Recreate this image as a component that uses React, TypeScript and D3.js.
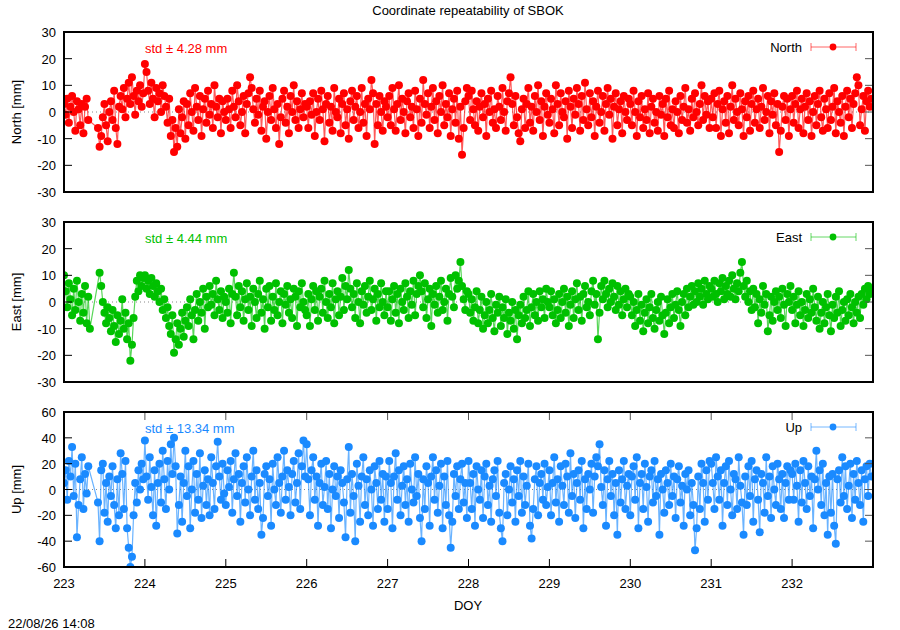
import React from 'react'
import * as d3 from 'd3'

const title = 'Coordinate repeatability of SBOK'
const stamp = '22/08/26 14:08'
const xTickLabels = [223, 224, 225, 226, 227, 228, 229, 230, 231, 232]
const doyStart = 223
const doyEnd = 233
const perDay = 50 // epochs per day

// residuals in mm, one row per day (null = no solution)
const north: (number | null)[] = [
    // 223
    3, -1, 5, -4, 2, 6, 0, -7, 4, 1, -5, 3, -8, 2, 5, -3, null, null, null, null, null,
    -6, -13, -9, -2, 3, -5, -11, 0, 4, -3, 8, -6, -12, 2, 6,
    1, 9, -2, 5, 11, 3, 13, 6, -1, 8, 4, 10, 2, 7,
    // 224
    18, 15, 8, 3, 11, 5, -2, 9, 4, 7, 0, 10, 6,
    2, -4, 5, -9, -3, -15, -6, -13, 1, -8, -2, 4, -10,
    3, -5, 7, 0, -7, 9, 2, -3, 6, -9, 1, 5, -4, 8, -1, 3, -6, 10, 2, -2, 5, -8, 4, 0,
    // 225
    -3, 5, 1, -6, 8, 2, -2, 10, 4, -5, 0, 6, -8, 3, 7, 13, 9, 1, -4, 5,
    -1, 8, -7, 2, 4, -10, 0, 6, -3, 9, 1, -6, 3, -12, -2, 5, 8, -4, 2, -8,
    6, 0, 10, -3, 4, -6, 1, 7, -2, 3,
    // 226
    2, -6, 4, -1, 7, -9, 0, 5, -3, 8, 1, -11, 3, 6, -4, 2, -7, 9, 0, -2,
    5, -8, 3, 7, -5, 1, -10, 4, 8, -3, 2, 6, -6, 0, 9, -4, 3, -9, 5, 1,
    12, 7, -12, 3, -5, 6, 0, -7, 4, 2,
    // 227
    -2, 6, -5, 9, 1, -7, 3, 10, -3, 5, 0, -8, 4, 7, -2, 2, -6, 8, 1, -9,
    5, -4, 12, 3, -1, 7, -6, 2, 9, -3, 4, -8, 6, 0, 10, -5, 3, -2, 7, -9,
    1, 5, -4, 8, -10, 2, -16, -6, 4, 9,
    // 228
    6, -3, 8, 1, -5, 4, -7, 2, 7, -2, 3, -9, 5, 0, 8, -4, 1, -6, 6, 2,
    -3, 9, 0, -7, 4, 7, 13, 3, -5, 6, -2, -8, -11, 1, 5, -6, 3, 9, -4, 2,
    -7, 6, 0, 10, -3, 4, -9, 2, 7, -1,
    // 229
    -4, 5, 1, -8, 10, 3, -5, 7, 0, -2, 4, -10, 8, 2, -6, 5, -1, 9, 3, -7,
    6, -3, 11, 1, -5, 7, -2, 4, -9, 2, 8, -4, 0, 6, -7, 3, 9, -1, 5, -10,
    2, 7, -5, 1, 4, -8, 6, 0, -3, 5,
    // 230
    3, -5, 8, 0, -9, 4, -2, 6, -6, 1, -3, 7, -8, 2, 5, -4, 0, -7, 6, -1,
    3, -9, 5, -2, 8, -5, 1, -6, 4, 0, -8, 6, -3, 2, 9, -4, 1, -7, 5, -2,
    7, 0, -5, 3, 10, -3, 6, -1, 4, -6,
    // 231
    5, -2, 7, -6, 3, 8, -9, 1, 4, -4, 6, -8, 2, 10, -3, 5, 0, -5, 7, 1,
    -9, 4, -2, 6, -7, 3, 8, -4, 1, 5, -6, 2, 9, -3, 0, 6, -8, 4, -1, 7,
    -5, 3, -15, -7, 2, 6, -3, 5, -9, 1,
    // 232
    6, -4, 3, 8, -6, 1, 5, -8, 2, 7, -3, 4, -9, 0, 6, -5, 3, 8, -2, -7,
    5, 1, -6, 7, -3, 2, 9, -8, 4, 0, -4, 6, -9, 2, 8, -2, 5, -6, 3, 7,
    13, 10, -5, 1, 6, -7, 4, 8, 2, 5,
]

const east: (number | null)[] = [
    // 223
    10, 4, -2, 7, 1, -5, 5, -3, 8, 0, -7, 3, -4, 6, -8, 2, -10, null, null, null, null, null,
    11, 6, 0, -4, -8, -2, -6, -11, -3, -9, -15, -5, -12, -7, 1, -10, -4, -14, -8,
    -22, -16, -6, 2, 8, 4, 10, 6, 9,
    // 224
    10, 5, 8, 3, 9, 6, 2, 7, 4, 0, 5, -3, 1, -6, -2, -9, -12, -5, -19, -14,
    -8, -16, -10, -4, -13, -7, -2, -9, 1, -5, -14, -3, 3, -7, 0, -4, 5, -10, 2, -2,
    6, -1, 3, -5, 8, 1, -3, 4, -6, 2,
    // 225
    0, -4, 5, -8, 3, 11, 2, -5, 6, -2, 4, -7, 1, 7, -3, 2, -9, 5, 0, -6,
    3, 8, -4, 1, -10, 5, -2, 6, -7, 2, -3, 7, -5, 0, 4, -8, 3, -1, 6, -4,
    1, -6, 5, 2, -9, 4, -2, 7, 0, -3,
    // 226
    -5, 3, -9, 1, 6, -3, 4, -7, 2, 5, -4, 8, 0, -6, 3, -2, 7, -8, 1, 4,
    -5, 2, 9, -3, 6, 1, 12, 5, -2, 3, -6, 7, 0, -8, 4, -1, 6, -4, 2, 8,
    -3, 1, 5, -7, 3, -2, 7, 0, -5, 4,
    // 227
    -2, 4, -7, 1, 6, -4, 3, -8, 5, 0, -3, 7, 2, -6, 4, -1, 8, -5, 3, 6,
    10, 4, -2, 7, -6, 1, 5, -9, 3, -1, 6, -4, 2, 8, -3, 0, 5, -7, 3, 9,
    2, -2, 10, 5, 8, 15, 6, 1, -3, 4,
    // 228
    3, -4, 1, -7, -2, 4, -8, -3, 2, -10, -5, 0, -8, -3, 3, -6, -11, -1, -4, 2,
    -9, -2, -6, 1, -12, -4, -7, 0, -10, -3, -14, -5, -1, -8, 2, -6, -3, 4, -9, -2,
    3, -5, 0, -7, 4, -2, 1, -6, 5, 0,
    // 229
    -2, 4, -5, 1, -8, -3, 3, -6, 0, 5, -4, 2, -9, -1, 4, -6, 1, 7, -3, 2,
    -7, 3, 6, -2, 0, -5, 4, 8, -1, 3, -14, -4, 6, 1, 8, 3, -2, 5, 0, 7,
    2, -3, 6, -1, 4, -5, 1, 5, -2, 3,
    // 230
    2, -5, 0, -9, -3, 3, -7, -1, -11, -4, 1, -8, -2, 3, -6, -10, -3, 0, -7, 2,
    -5, -12, -4, 1, -8, -2, 3, -6, -1, 4, -3, -9, 0, 3, -5, 5, -2, 2, 6, -1,
    4, 0, 7, 2, 5, -1, 8, 3, 1, 6,
    // 231
    5, 2, 8, 3, 0, 7, 4, 9, 1, 6, 3, 8, 2, 10, 5, 1, 7, 4, 11, 15,
    6, 2, 8, 0, 4, -3, 5, -2, 3, -8, 1, -4, 6, -1, 3, -11, -5, 2, -7, 0,
    4, -3, 2, -6, 5, -1, -9, 3, 0, 6,
    // 232
    -3, 2, -8, -1, 4, -5, 0, -9, -3, 3, -6, 1, -4, 5, -2, -7, 2, -10, -4, 0,
    -8, -2, 3, -5, -11, -1, -6, 2, -4, 4, -9, -3, 0, -7, 1, -5, 3, -2, -8, 0,
    -4, 2, -6, 3, -1, 5, 1, 6, 3, 5,
]

const up: (number | null)[] = [
    // 223
    5, 15, -8, 22, 10, 33, -5, 20, -37, -12, 8, 25, -15, 12, -3, 18, null, null, null, null, null,
    -10, -40, 15, 20, -18, 5, -25, 10, -5, 18, -12, -30, 8, -20, 28, 12,
    -15, 22, -30, -45, -60, -52, -20, 5, -10, 15, 0, 20, 8,
    // 224
    38, 10, -8, 25, 2, -20, 15, -28, 5, 20, -10, 30, 8, -15, 22, 0, 35, 12, 40, 18,
    -34, -12, 10, -25, 5, 30, -5, 18, -30, 0, 22, -18, 12, -8, 28, -22, 3, 15, -12, 8,
    -20, 25, 5, -15, 18, 37, 10, -8, 20, -3,
    // 225
    -12, 15, 2, 22, -18, 8, 28, -5, 12, -25, 5, 18, -10, 25, 0, -20, 10, 30, -8, 15,
    -15, 5, -35, -22, 12, 18, -5, 8, -28, 20, 0, -12, 25, 5, -18, 10, 30, -8, 15, 2,
    -20, 12, 22, -10, 5, 28, -15, 18, 38, 10,
    // 226
    35, 8, -20, 15, 25, -8, 10, -28, 5, 20, -12, 2, 22, -15, 12, -30, 0, 18, -5, 10,
    -22, 15, 5, -10, -37, 8, 33, -18, 12, -5, -40, 20, 3, -25, 10, 25, -12, 8, -20, 15,
    0, -28, 18, 5, -15, 22, -8, 12, -25, 10,
    // 227
    -15, 22, 5, -30, 10, 28, -8, 15, -20, 3, 18, -12, 8, -25, 20, 0, -10, 25, -5, 12,
    -22, -40, 8, -15, 18, 5, -28, 10, 25, -8, 15, -18, 3, 20, -30, 10, -12, 22, -20, -45,
    -25, 12, -5, 18, -15, 8, 20, -10, 5, -22,
    // 228
    22, 5, -15, 12, -28, 18, 0, -8, 15, -22, 10, 20, -12, 3, -25, 8, 15, -5, 22, -18,
    -30, -40, 5, 12, -20, 0, 18, -10, 8, -25, 15, -5, 22, -18, 10, -12, 3, 20, -28, -38,
    -15, 8, 18, -20, 5, 12, -8, 20, -12, 2,
    // 229
    15, -20, 5, 25, -10, 8, -25, 18, 3, -12, 20, 10, -18, 28, -5, 12, -22, 5, 15, -8,
    22, -30, 8, -15, 12, 0, 20, -18, 10, 25, 18, 35, 2, -12, 15, -28, 8, 22, -5, 12,
    -20, 5, -35, 15, -10, 8, 22, -15, 3, 12,
    // 230
    -20, 10, 18, -8, 25, -30, 5, 12, -15, 20, 2, -25, 10, 15, -10, 22, -5, 8, -35, 12,
    0, -18, 15, 5, -12, 20, -5, 10, -22, 8, 18, -10, 3, -28, 12, 0, 15, -20, 5, -12,
    -47, -30, 10, -15, 20, 5, -25, 15, -8, 22,
    // 231
    20, 5, -15, 25, 10, -8, 15, -28, 5, 18, -12, 22, 0, -20, 12, 8, -15, 25, 3, -10,
    -35, 10, -12, 18, -5, 22, -25, 8, 15, -8, -33, 12, 5, -18, 25, -5, 10, -22, 18, 0,
    -12, 20, 8, -15, 12, -22, 5, 18, -8, 15,
    // 232
    12, -8, 20, 3, -25, 15, -10, 22, 5, -15, 18, -5, 10, -30, 8, 30, 0, 15, -12, 20,
    -20, 5, -35, 10, -18, 12, -28, -42, 8, 15, -10, 25, -5, 18, -15, 3, 20, -22, 12, -8,
    22, 5, -12, 15, -25, 8, 18, -5, 20, 10,
]

const northTicks = [-30, -20, -10, 0, 10, 20, 30]
const eastTicks = [-30, -20, -10, 0, 10, 20, 30]
const upTicks = [-60, -40, -20, 0, 20, 40, 60]

const series = [
    { name: 'North', axis: 'North [mm]', std: 'std \u00b1 4.28 mm', values: north, ticks: northTicks, color: '#ff0000' },
    { name: 'East', axis: 'East [mm]', std: 'std \u00b1 4.44 mm', values: east, ticks: eastTicks, color: '#00c000' },
    { name: 'Up', axis: 'Up [mm]', std: 'std \u00b1 13.34 mm', values: up, ticks: upTicks, color: '#1a8aff' },
]

// vertical extent of each panel
const layout = [
    { top: 32, bottom: 192 },
    { top: 222, bottom: 382 },
    { top: 412, bottom: 567 },
]

const W = 900
const H = 630
const left = 64
const right = 873
const font = '"Liberation Sans", Arial, sans-serif'

const x = d3.scaleLinear().domain([doyStart, doyEnd]).range([left, right])

type Pt = [number, number]

const Panel: React.FC<{ s: (typeof series)[number]; top: number; bottom: number; last: boolean }> = ({ s, top, bottom, last }) => {
    const y = d3
        .scaleLinear()
        .domain([s.ticks[0], s.ticks[s.ticks.length - 1]])
        .range([bottom, top])

    const pts: Pt[] = []
    s.values.forEach((v, i) => {
        if (v !== null) pts.push([doyStart + i / perDay, v])
    })
    const line = d3
        .line<Pt>()
        .x((d) => x(d[0]))
        .y((d) => y(d[1]))

    const legY = top + 15
    const mid = (top + bottom) / 2

    return (
        <g>
            <clipPath id={`clip-${s.name}`}>
                <rect x={left} y={top} width={right - left} height={bottom - top} />
            </clipPath>
            {/* zero axis */}
            <line x1={left} x2={right} y1={y(0)} y2={y(0)} stroke="#888" strokeDasharray="1,3" />
            <g clipPath={`url(#clip-${s.name})`}>
                <path d={line(pts) || ''} fill="none" stroke={s.color} strokeOpacity={0.65} strokeWidth={1.2} />
                {pts.map((d, i) => (
                    <circle key={i} cx={x(d[0])} cy={y(d[1])} r={4} fill={s.color} />
                ))}
            </g>
            {/* y ticks, left and right */}
            {s.ticks.map((t) => (
                <g key={t}>
                    <line x1={left} x2={left + 8} y1={y(t)} y2={y(t)} stroke="#000" />
                    <line x1={right - 8} x2={right} y1={y(t)} y2={y(t)} stroke="#555" />
                    <text x={56} y={y(t) + 5} textAnchor="end" fontSize={13} fontFamily={font}>
                        {t}
                    </text>
                </g>
            ))}
            {last &&
                xTickLabels.map((t) => (
                    <g key={t}>
                        <line x1={x(t)} x2={x(t)} y1={bottom} y2={bottom - 8} stroke="#000" />
                        <line x1={x(t)} x2={x(t)} y1={top} y2={top + 8} stroke="#555" />
                        <text x={x(t)} y={bottom + 21} textAnchor="middle" fontSize={13} fontFamily={font}>
                            {t}
                        </text>
                    </g>
                ))}
            <rect x={left} y={top} width={right - left} height={bottom - top} fill="none" stroke="#000" strokeWidth={2} />
            <text
                transform={`translate(21,${mid}) rotate(-90)`}
                textAnchor="middle"
                fontSize={13}
                fontFamily={font}
            >
                {s.axis}
            </text>
            <text x={145} y={top + 21} fontSize={13} fontFamily={font} fill={s.color}>
                {s.std}
            </text>
            {/* legend */}
            <text x={802} y={legY + 5} textAnchor="end" fontSize={13} fontFamily={font}>
                {s.name}
            </text>
            <g stroke={s.color} strokeOpacity={0.6}>
                <line x1={811} x2={856} y1={legY} y2={legY} />
                <line x1={811} x2={811} y1={legY - 4} y2={legY + 4} />
                <line x1={856} x2={856} y1={legY - 4} y2={legY + 4} />
            </g>
            <circle cx={833} cy={legY} r={3.4} fill={s.color} />
        </g>
    )
}

const App: React.FC = () => {
    return (
        <svg
            width={W}
            height={H}
            style={{ position: 'absolute', left: 0, top: 0, background: '#fff' }}
        >
            <rect width={W} height={H} fill="#fff" />
            <text x={468} y={15} textAnchor="middle" fontSize={13} fontFamily={font}>
                {title}
            </text>
            {series.map((s, i) => (
                <Panel key={s.name} s={s} top={layout[i].top} bottom={layout[i].bottom} last={i === series.length - 1} />
            ))}
            <text x={468} y={610} textAnchor="middle" fontSize={13} fontFamily={font}>
                DOY
            </text>
            <text x={8} y={628} fontSize={13} fontFamily={font}>
                {stamp}
            </text>
        </svg>
    )
}

export default App
